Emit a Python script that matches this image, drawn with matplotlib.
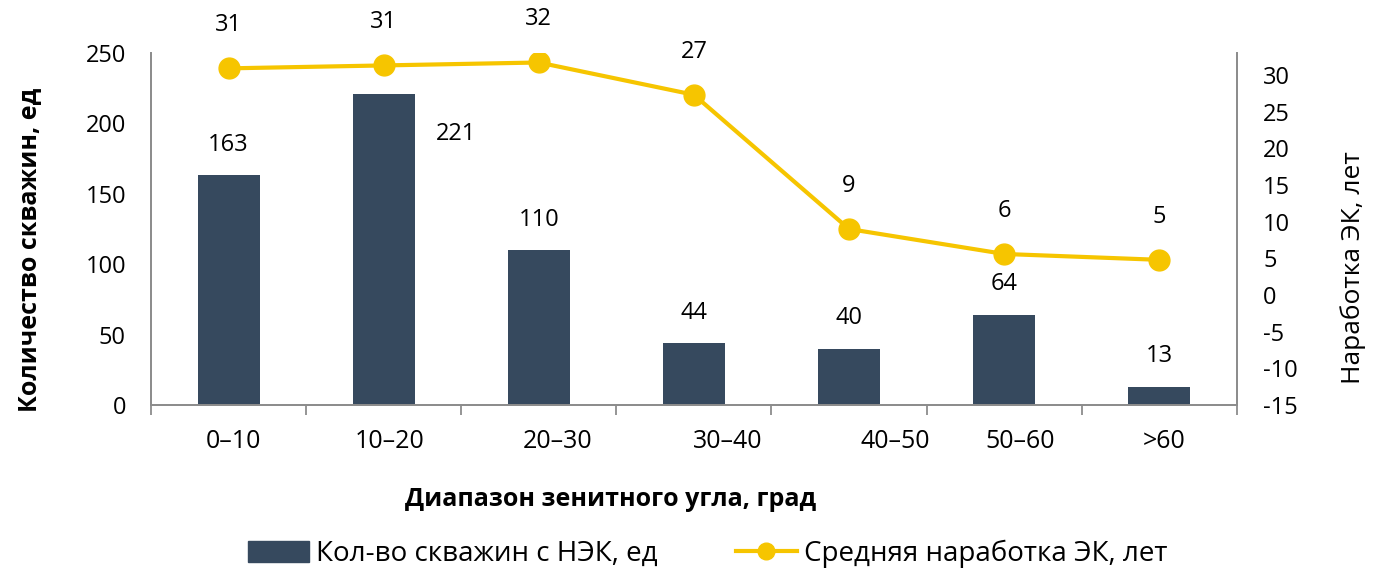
import matplotlib
matplotlib.use("Agg")
import matplotlib.pyplot as plt
from matplotlib.lines import Line2D
from matplotlib.patches import Patch

# Chart data
categories = ["0–10", "10–20", "20–30", "30–40", "40–50", "50–60", ">60"]
well_counts = [163, 221, 110, 44, 40, 64, 13]
avg_runtime = [30.9, 31.3, 31.7, 27.3, 9.0, 5.6, 4.8]

# Layout tweaks (label placement as in the original picture)
label_shift = [0.03, 0.04, 0.12, 0.22, 0.30, 0.10, 0.03]

BAR_COLOR = "#36495e"
LINE_COLOR = "#f6c500"
AXIS_COLOR = "#8c8c8c"

plt.rcParams["font.family"] = ["Open Sans", "DejaVu Sans"]
plt.rcParams["axes.unicode_minus"] = False

fig = plt.figure(figsize=(13.85, 5.82), dpi=100)
ax = fig.add_axes([0.109, 0.304, 0.784, 0.605])
ax2 = ax.twinx()

x = list(range(len(categories)))
ax.bar(x, well_counts, width=0.4, color=BAR_COLOR)
ax.set_xlim(-0.5, len(categories) - 0.5)
ax.set_ylim(0, 250)
ax.set_yticks(range(0, 251, 50))

ax2.plot(x, avg_runtime, color=LINE_COLOR, lw=3, marker="o", ms=15)
ax2.set_ylim(-15, 33)
ax2.set_yticks(range(-15, 31, 5))

# bar value labels
for i, v in enumerate(well_counts):
    if i == 1:
        ax.annotate(str(v), (i, v), xytext=(52, -29), textcoords="offset points",
                    ha="center", va="center", fontsize=17)
    else:
        ax.annotate(str(v), (i, v), xytext=(0, 22), textcoords="offset points",
                    ha="center", va="center", fontsize=17)

# line value labels
for i, v in enumerate(avg_runtime):
    ax2.annotate(f"{v:.0f}", (i, v), xytext=(0, 31), textcoords="offset points",
                 ha="center", va="center", fontsize=17)

# axes styling
for a in (ax, ax2):
    a.spines["top"].set_visible(False)
    for s in ("left", "right", "bottom"):
        a.spines[s].set_color(AXIS_COLOR)
        a.spines[s].set_linewidth(1.3)
ax.tick_params(axis="y", length=0, labelsize=17, pad=18)
ax2.tick_params(axis="y", length=0, labelsize=17, pad=19)

ax.set_xticks([i + s for i, s in zip(x, label_shift)])
ax.set_xticklabels(categories)
ax.set_xticks([i - 0.5 for i in range(len(categories) + 1)], minor=True)
ax.tick_params(axis="x", which="major", length=0, labelsize=18, pad=17)
ax.tick_params(axis="x", which="minor", length=7, width=1.3, color=AXIS_COLOR)

ax.set_ylabel("Количество скважин, ед", fontsize=18, fontweight="bold")
ax.yaxis.set_label_coords(-0.10, 0.44)
ax2.set_ylabel("Наработка ЭК, лет", fontsize=19)
ax2.yaxis.set_label_coords(1.095, 0.39)
ax.set_xlabel("Диапазон зенитного угла, град", fontsize=18, fontweight="bold")
ax.xaxis.set_label_coords(0.423, -0.232)

handles = [Patch(color=BAR_COLOR),
           Line2D([0], [0], color=LINE_COLOR, lw=3, marker="o", ms=12)]
fig.legend(handles, ["Кол-во скважин с НЭК, ед", "Средняя наработка ЭК, лет"],
           loc="center", bbox_to_anchor=(0.511, 0.048), ncol=2, frameon=False,
           fontsize=20, handlelength=2.2, handleheight=0.8, handletextpad=0.25,
           columnspacing=2.8)

fig.savefig("out.png", dpi=100)
